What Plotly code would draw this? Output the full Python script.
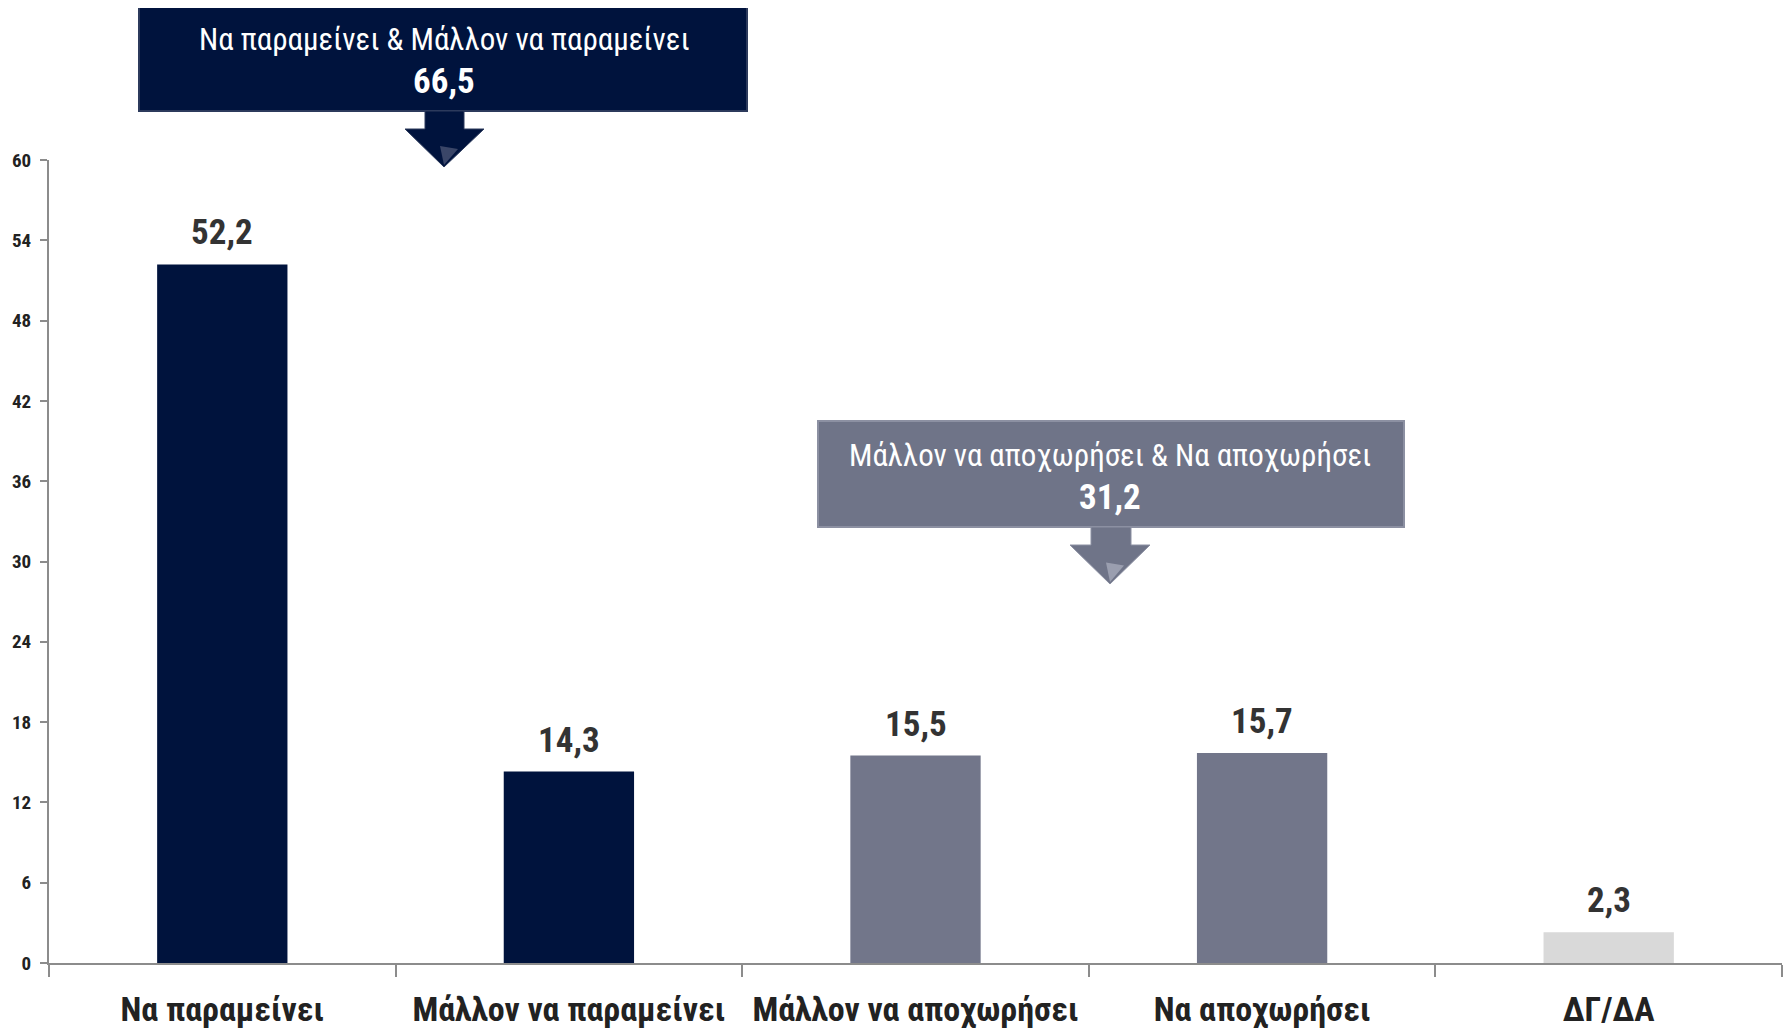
import plotly.graph_objects as go

# ---------------- data ----------------
categories = ["Να παραμείνει", "Μάλλον να παραμείνει", "Μάλλον να αποχωρήσει",
              "Να αποχωρήσει", "ΔΓ/ΔΑ"]
values = [52.2, 14.3, 15.5, 15.7, 2.3]
group_titles = ["Να παραμείνει & Μάλλον να παραμείνει",
                "Μάλλον να αποχωρήσει & Να αποχωρήσει"]
group_totals = [66.5, 31.2]
y_ticks = [0, 6, 12, 18, 24, 30, 36, 42, 48, 54, 60]

# ---------------- style ----------------
bar_colors = ["#00133D", "#00133D", "#72768A", "#72768A", "#D9D9D9"]
box_colors = ["#00133D", "#6F7488"]
box_edges = ["#2C3A5C", "#8C90A2"]
head_light = ["#3A4668", "#9A9EAF"]
FONT = "Liberation Sans Narrow, Arial Narrow, Roboto Condensed, sans-serif"
OFF = 8                      # page body margin
W, H = 1791, 1028
PX_L, PX_R, PX_T, PX_B = 49, 1782, 160, 963   # plot area in page pixels
L, T = PX_L - OFF, PX_T - OFF
R = W - (PX_R - OFF)
B = H - (PX_B - OFF)


def fmt(v):
    return f"{v:.1f}".replace(".", ",")


def fx(px):
    return (px - PX_L) / (PX_R - PX_L)


def fy(py):
    return (PX_B - py) / (PX_B - PX_T)


fig = go.Figure()
fig.add_trace(go.Bar(
    x=categories, y=values, marker=dict(color=bar_colors, line=dict(width=0)),
    width=0.376, hoverinfo="skip", showlegend=False,
))

annotations = []
for c, v in zip(categories, values):
    annotations.append(dict(
        x=c, y=v, xref="x", yref="y", text=f"<b>{fmt(v)}</b>", showarrow=False,
        yanchor="bottom", yshift=9,
        font=dict(family=FONT, size=35, color="#333333"),
    ))

# group boxes (pixel geometry of the reference page)
boxes = [
    dict(x0=139, x1=747, y0=7, y1=111, cx=444, shaft=(425, 464), head=(405, 484),
         head_top=129, tip=167, t1=39, t2=81),
    dict(x0=818, x1=1404, y0=421, y1=527, cx=1110, shaft=(1091, 1131), head=(1070, 1150),
         head_top=545, tip=584, t1=455, t2=497),
]
shapes = []
for i, bx in enumerate(boxes):
    shapes.append(dict(
        type="rect", xref="paper", yref="paper",
        x0=fx(bx["x0"]), x1=fx(bx["x1"]), y0=fy(bx["y1"]), y1=fy(bx["y0"]),
        fillcolor=box_colors[i], line=dict(color=box_edges[i], width=2), layer="above",
    ))
    s0, s1 = bx["shaft"]
    h0, h1 = bx["head"]
    path = (f"M {fx(s0)},{fy(bx['y1'])} L {fx(s1)},{fy(bx['y1'])} "
            f"L {fx(s1)},{fy(bx['head_top'])} L {fx(h1)},{fy(bx['head_top'])} "
            f"L {fx(bx['cx'])},{fy(bx['tip'])} L {fx(h0)},{fy(bx['head_top'])} "
            f"L {fx(s0)},{fy(bx['head_top'])} Z")
    shapes.append(dict(type="path", xref="paper", yref="paper", path=path,
                       fillcolor=box_colors[i], line=dict(color=box_edges[i], width=1),
                       layer="above"))
    # subtle bevel highlight on the arrow head
    mid = bx["head_top"] + (bx["tip"] - bx["head_top"]) * 0.45
    hl = (f"M {fx(bx['cx'] - 4)},{fy(mid)} L {fx(bx['cx'] + 14)},{fy(mid + 3)} "
          f"L {fx(bx['cx'])},{fy(bx['tip'] - 2)} Z")
    shapes.append(dict(type="path", xref="paper", yref="paper", path=hl,
                       fillcolor=head_light[i], line=dict(width=0), layer="above"))
    annotations.append(dict(
        x=fx(bx["cx"]), y=fy(bx["t1"]), xref="paper", yref="paper",
        text=group_titles[i], showarrow=False, xanchor="center", yanchor="middle",
        font=dict(family=FONT, size=31, color="white"),
    ))
    annotations.append(dict(
        x=fx(bx["cx"]), y=fy(bx["t2"]), xref="paper", yref="paper",
        text=f"<b>{fmt(group_totals[i])}</b>", showarrow=False, xanchor="center",
        yanchor="middle", font=dict(family=FONT, size=35, color="white"),
    ))

fig.update_layout(
    width=W, height=H, margin=dict(l=L, r=R, t=T, b=B, pad=0, autoexpand=False),
    paper_bgcolor="white", plot_bgcolor="white",
    bargap=0.624, shapes=shapes, annotations=annotations,
    font=dict(family=FONT, color="#333333"),
)
fig.update_xaxes(
    type="category", range=[-0.5, 4.5], automargin=False,
    showline=True, linecolor="#8C8C8C", linewidth=2,
    ticks="outside", tickson="boundaries", ticklen=12, tickwidth=2, tickcolor="#8C8C8C",
    tickvals=categories, ticktext=[f"<b>{c}</b>" for c in categories],
    tickfont=dict(family=FONT, size=34, color="#222222"), ticklabelstandoff=15,
    showgrid=False, zeroline=False,
)
fig.update_yaxes(
    range=[0, 60], automargin=False, tickvals=y_ticks,
    ticktext=[f"<b>{t}</b>" for t in y_ticks],
    showline=True, linecolor="#8C8C8C", linewidth=2, ticks="outside", ticklen=7,
    tickwidth=2, tickcolor="#8C8C8C", tickfont=dict(family=FONT, size=19, color="#222222"),
    ticklabelstandoff=5, showgrid=False, zeroline=False,
)

fig.write_html("out.html")
